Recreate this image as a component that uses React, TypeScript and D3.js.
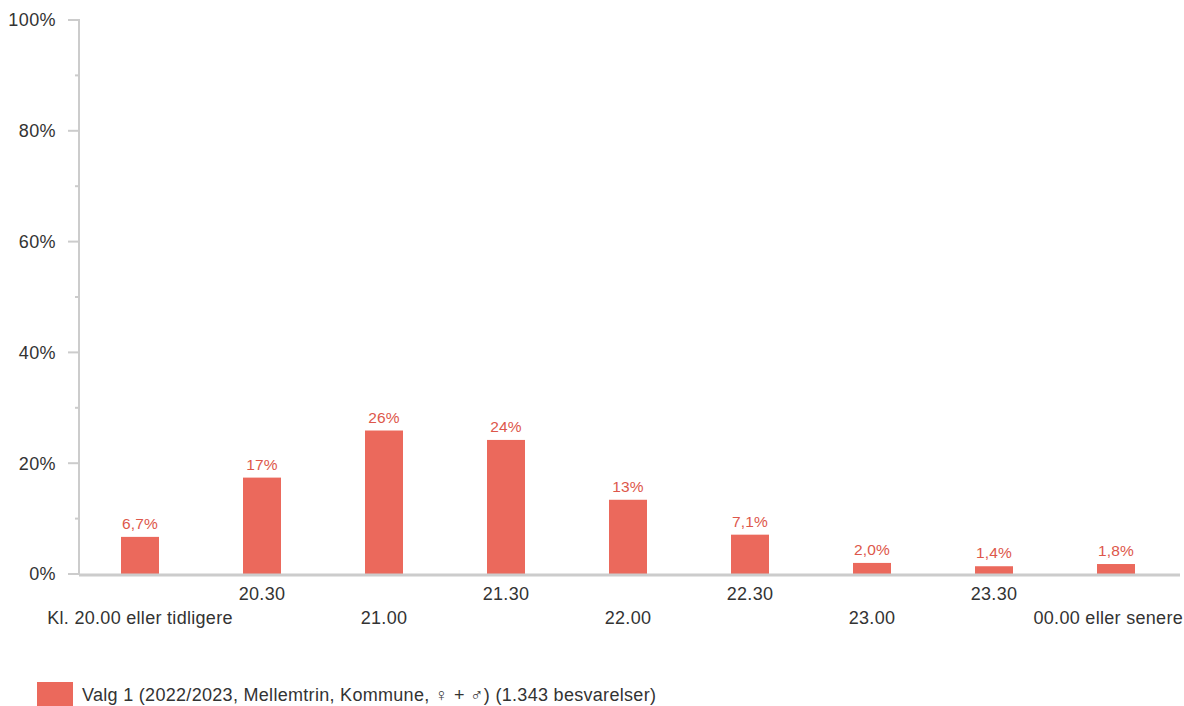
import React from "react";
import * as d3 from "d3";

const categories = [
  "Kl. 20.00 eller tidligere",
  "20.30",
  "21.00",
  "21.30",
  "22.00",
  "22.30",
  "23.00",
  "23.30",
  "00.00 eller senere",
];
const values = [6.7, 17.4, 25.9, 24.2, 13.4, 7.1, 2.0, 1.4, 1.8];
const valueLabels = ["6,7%", "17%", "26%", "24%", "13%", "7,1%", "2,0%", "1,4%", "1,8%"];
const majorTicks = [0, 20, 40, 60, 80, 100];
const minorTicks = [10, 30, 50, 70, 90];
const seriesName = "Valg 1 (2022/2023, Mellemtrin, Kommune, ♀ + ♂) (1.343 besvarelser)";

const W = 1184;
const H = 706;
const left = 79;
const right = 1177;
const top = 20;
const bottom = 574;
const barColor = "#EB695C";
const labelColor = "#DD574B";
const axisColor = "#CCCCCC";
const textColor = "#333333";
const font = "Arial, 'Liberation Sans', sans-serif";

export default function App() {
  const x = d3.scaleBand<string>().domain(categories).range([left, right]).paddingInner(0).paddingOuter(0);
  const y = d3.scaleLinear().domain([0, 100]).range([bottom, top]);
  const barW = 38;

  return (
    <svg width={W} height={H} style={{ position: "absolute", left: 0, top: 0 }} fontFamily={font}>
      {/* y ticks */}
      {majorTicks.map((t) => (
        <g key={"M" + t}>
          <line x1={left - 11} x2={left} y1={y(t)} y2={y(t)} stroke={axisColor} strokeWidth={2} />
          <text x={56} y={y(t)} dy="0.35em" textAnchor="end" fontSize={18} letterSpacing={0.4} fill={textColor}>
            {t}%
          </text>
        </g>
      ))}
      {minorTicks.map((t) => (
        <line key={"m" + t} x1={left - 4} x2={left} y1={y(t)} y2={y(t)} stroke={axisColor} strokeWidth={2} />
      ))}
      {/* y axis line */}
      <line x1={left} x2={left} y1={top - 1} y2={bottom + 1} stroke={axisColor} strokeWidth={2} />

      {/* bars */}
      {categories.map((c, i) => {
        const cx = (x(c) as number) + x.bandwidth() / 2;
        return (
          <g key={c}>
            <rect x={cx - barW / 2} y={y(values[i])} width={barW} height={bottom - y(values[i])} fill={barColor} />
            <text x={cx} y={y(values[i]) - 8} textAnchor="middle" fontSize={15.5} letterSpacing={0.2} fill={labelColor}>
              {valueLabels[i]}
            </text>
          </g>
        );
      })}

      {/* x axis line */}
      <line x1={left} x2={1180} y1={bottom + 1} y2={bottom + 1} stroke={axisColor} strokeWidth={3} />

      {/* x labels */}
      {categories.map((c, i) => {
        const cx = (x(c) as number) + x.bandwidth() / 2;
        const isLast = i === categories.length - 1;
        return (
          <text
            key={"l" + c}
            x={isLast ? W - 1 : cx}
            y={i % 2 === 1 ? 600 : 624}
            textAnchor={isLast ? "end" : "middle"}
            fontSize={18}
            letterSpacing={0.3}
            fill={textColor}
          >
            {c}
          </text>
        );
      })}

      {/* legend */}
      <rect x={37} y={682} width={36} height={24} fill={barColor} />
      <text x={82} y={701} fontSize={18} letterSpacing={0.3} fill={textColor}>
        {seriesName}
      </text>
    </svg>
  );
}
